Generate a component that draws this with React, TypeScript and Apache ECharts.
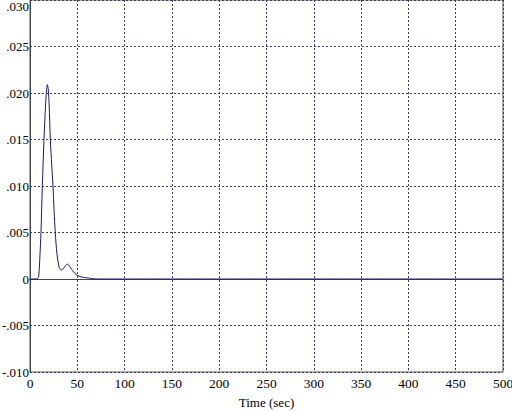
import React, { useEffect, useRef } from "react";
import * as echarts from "echarts";

const timeSec = [0, 5, 8, 9.2, 10.5, 11.6, 13, 14.8, 16.5, 17.6, 18.3, 19.2, 20.2, 21.5, 23, 24.3, 25.5, 26.7, 28.5, 30.5, 32.5, 34.5, 36.5, 38, 39.4, 41, 43, 45, 47.5, 50.7, 55, 59.5, 64, 68.4, 75, 100, 500];
const response = [0, 0, 0.00005, 0.0003, 0.0025, 0.005, 0.0099, 0.015, 0.0188, 0.0204, 0.0209, 0.0205, 0.0188, 0.015, 0.0122, 0.01, 0.0073, 0.005, 0.0027, 0.0014, 0.00097, 0.00105, 0.0013, 0.0015, 0.0016, 0.0015, 0.0012, 0.0009, 0.0006, 0.00035, 0.0002, 0.00014, 0.00007, 0.00002, 0, 0, 0];

const xAxisName = "Time (sec)";

export default function App() {
  const ref = useRef<HTMLDivElement>(null);
  useEffect(() => {
    if (!ref.current) return;
    const chart = echarts.init(ref.current, null, { renderer: "svg" });
    const serif = "Liberation Serif";
    chart.setOption({
      animation: false,
      backgroundColor: "#ffffff",
      grid: {
        left: 30,
        right: 9,
        top: 0,
        bottom: 39,
        containLabel: false,
        outerBoundsMode: "none",
        show: true,
        borderColor: "#555555",
        borderWidth: 1,
        backgroundColor: "transparent",
      },
      xAxis: {
        type: "value",
        min: 0,
        max: 500,
        interval: 50,
        name: xAxisName,
        nameLocation: "middle",
        nameGap: 24,
        nameTextStyle: { fontFamily: serif, fontSize: 13, color: "#000" },
        axisLine: { show: true, lineStyle: { color: "#444", width: 1 } },
        axisTick: { show: false },
        axisLabel: { fontFamily: serif, fontSize: 13.5, color: "#000", margin: 4 },
        splitLine: { show: true, lineStyle: { color: "#3a3a6a", type: [2, 2], width: 1 } },
      },
      yAxis: {
        type: "value",
        min: -0.01,
        max: 0.03,
        interval: 0.005,
        axisLine: { show: true, lineStyle: { color: "#444", width: 1 } },
        axisTick: { show: false },
        axisLabel: {
          fontFamily: serif,
          fontSize: 13,
          color: "#000",
          margin: 1,
          verticalAlignMaxLabel: "top",
          formatter: (v: number) => {
            if (Math.abs(v) < 1e-9) return "0";
            const s = Math.abs(v).toFixed(3).replace(/^0/, "");
            return (v < 0 ? "-" : "") + s;
          },
        },
        splitLine: { show: true, lineStyle: { color: "#3a3a6a", type: [2, 2], width: 1 } },
      },
      series: [
        {
          type: "line",
          data: timeSec.map((t, i) => [t, response[i]]),
          showSymbol: false,
          smooth: 0.3,
          lineStyle: { color: "#1b1b6b", width: 1 },
        },
      ],
    });
    return () => chart.dispose();
  }, []);
  return <div ref={ref} style={{ width: 512, height: 411, position: "absolute", left: 0, top: 0 }} />;
}
